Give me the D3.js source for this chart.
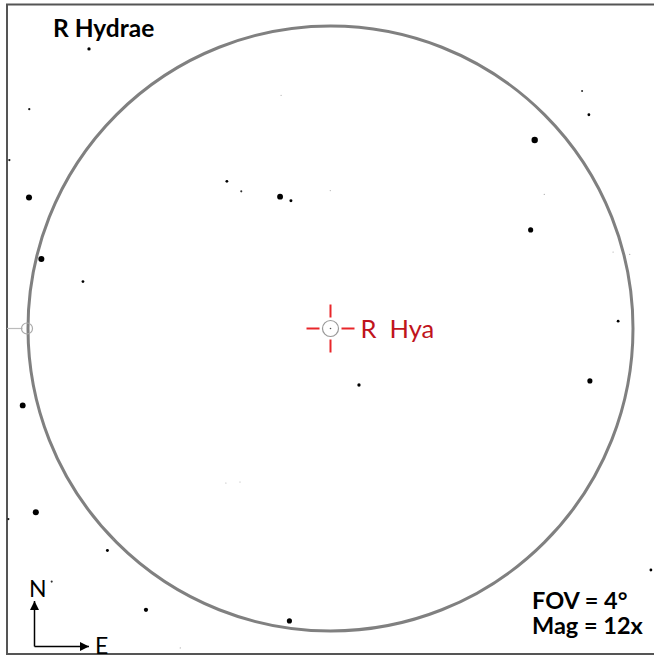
<!DOCTYPE html>
<html>
<head>
<meta charset="utf-8">
<script src="https://cdn.jsdelivr.net/npm/d3@7"></script>
<style>
  body { margin: 0; background: #fff; }
  svg { display: block; }
</style>
</head>
<body>
<div id="chart"></div>
<script>
///////////////////////////////////////////////////
// Data
///////////////////////////////////////////////////

const title = 'R Hydrae';
const targetLabel = 'R  Hya';
const fovLabel = 'FOV = 4°';
const magLabel = 'Mag = 12x';
const fovDegrees = 4;

// star offsets from R Hya in arcmin (x toward E, y toward N) and magnitude
const starDx = [-95.8, -119.5, -127.4, -119.6, -19.6, -41.1, -35.4, -20.0, -15.7, -0.1,
  99.8, 102.5, 81.0, 84.8, -114.7, -98.2, -122.1, 11.3, 79.4, 112.1,
  118.7, 114.1, 102.9, -116.9, -127.8, -86.2, -88.5, -110.6, -73.2, -59.6,
  -41.5, -35.9, -16.3, 127.1];
const starDy = [110.9, 87.0, 66.8, 52.0, 92.5, 58.4, 54.4, 52.3, 50.7, 54.7,
  94.2, 84.8, 74.8, 53.2, 27.6, 18.6, -30.5, -22.4, 39.1, 30.3,
  29.4, 2.9, -20.8, -72.9, -75.6, -83.6, -88.1, -100.4, -111.6, -126.7,
  -61.3, -60.9, -116.0, -95.8];
const starMag = [9.7, 10.3, 10.3, 8.2, 10.9, 10.0, 10.4, 8.3, 9.9, 10.9,
  10.4, 10.0, 8.0, 10.9, 8.2, 10.0, 8.3, 9.7, 8.7, 10.9,
  10.9, 10.0, 8.7, 8.2, 10.3, 10.8, 9.9, 10.4, 9.2, 10.9,
  10.9, 10.9, 8.7, 10.0];

///////////////////////////////////////////////////
// Setup
///////////////////////////////////////////////////

const width = 654, height = 656;
const fovRadius = (fovDegrees / 2) * 60; // arcmin

const x = d3.scaleLinear().domain([-fovRadius, fovRadius]).range([28, 633]);
const y = d3.scaleLinear().domain([-fovRadius, fovRadius]).range([631, 26]);
const r = d3.scaleLinear().domain([8, 11]).range([3.2, 0.5]).clamp(true);
const shade = d3.scaleLinear().domain([10.2, 10.9]).range(['#000', '#aaa']).clamp(true);

const stars = starDx.map((d, i) => ({ dx: d, dy: starDy[i], mag: starMag[i] }));

const svg = d3.select('#chart')
  .append('svg')
  .attr('width', width)
  .attr('height', height);

svg.append('rect')
  .attr('width', width)
  .attr('height', height)
  .attr('fill', '#fff');

// frame (right side runs off the picture)
svg.append('rect')
  .attr('x', 7)
  .attr('y', 4.5)
  .attr('width', 700)
  .attr('height', 649.5)
  .attr('fill', 'none')
  .attr('stroke', '#555')
  .attr('stroke-width', 2);

// field of view circle
svg.append('circle')
  .attr('cx', x(0))
  .attr('cy', y(0))
  .attr('r', x(fovRadius) - x(0))
  .attr('fill', 'none')
  .attr('stroke', '#808080')
  .attr('stroke-width', 3);

// edge marker on the west side
svg.append('line')
  .attr('x1', 7)
  .attr('x2', x(-fovRadius) - 5.5)
  .attr('y1', y(0))
  .attr('y2', y(0))
  .attr('stroke', '#bbb')
  .attr('stroke-width', 1.2);

svg.append('circle')
  .attr('cx', x(-fovRadius) - 1)
  .attr('cy', y(0))
  .attr('r', 5.5)
  .attr('fill', 'none')
  .attr('stroke', '#aaa')
  .attr('stroke-width', 1.2);

// stars
svg.append('g')
  .selectAll('circle')
  .data(stars)
  .join('circle')
  .attr('cx', (d) => x(d.dx))
  .attr('cy', (d) => y(d.dy))
  .attr('r', (d) => r(d.mag))
  .attr('fill', (d) => shade(d.mag));

///////////////////////////////////////////////////
// Target marker
///////////////////////////////////////////////////

const target = svg.append('g')
  .attr('transform', `translate(${x(0)},${y(0)})`);

target.append('circle')
  .attr('r', 8)
  .attr('fill', 'none')
  .attr('stroke', '#999')
  .attr('stroke-width', 1.2);

target.append('circle')
  .attr('r', 0.8)
  .attr('fill', '#555');

const ticks = [[-24, 0, -11, 0], [11, 0, 24, 0], [0, -24, 0, -11], [0, 11, 0, 24]];
target.selectAll('line')
  .data(ticks)
  .join('line')
  .attr('x1', (d) => d[0])
  .attr('y1', (d) => d[1])
  .attr('x2', (d) => d[2])
  .attr('y2', (d) => d[3])
  .attr('stroke', '#e8262a')
  .attr('stroke-width', 2);

target.append('text')
  .attr('x', 30)
  .attr('y', 9.5)
  .attr('font-family', 'Lato, sans-serif')
  .attr('font-size', 25.5)
  .attr('fill', '#c0141c')
  .style('white-space', 'pre')
  .text(targetLabel);

///////////////////////////////////////////////////
// Texts and compass
///////////////////////////////////////////////////

svg.append('text')
  .attr('x', 53)
  .attr('y', 37)
  .attr('font-family', 'Lato, sans-serif')
  .attr('font-weight', 'bold')
  .attr('font-size', 24.5)
  .attr('fill', '#000')
  .text(title);

svg.append('text')
  .attr('x', 532)
  .attr('y', 609)
  .attr('font-family', 'Lato, sans-serif')
  .attr('font-weight', 'bold')
  .attr('font-size', 23.5)
  .attr('fill', '#000')
  .text(fovLabel);

svg.append('text')
  .attr('x', 532)
  .attr('y', 634)
  .attr('font-family', 'Lato, sans-serif')
  .attr('font-weight', 'bold')
  .attr('font-size', 23.5)
  .attr('fill', '#000')
  .text(magLabel);

const defs = svg.append('defs');
defs.append('marker')
  .attr('id', 'arrow')
  .attr('viewBox', '0 0 10 10')
  .attr('refX', 10)
  .attr('refY', 5)
  .attr('markerWidth', 9)
  .attr('markerHeight', 9)
  .attr('markerUnits', 'userSpaceOnUse')
  .attr('orient', 'auto')
  .append('path')
  .attr('d', 'M0,0L10,5L0,10z')
  .attr('fill', '#000');

svg.append('path')
  .attr('d', 'M34.5,646.5V601')
  .attr('stroke', '#000')
  .attr('stroke-width', 1.5)
  .attr('fill', 'none')
  .attr('marker-end', 'url(#arrow)');

svg.append('path')
  .attr('d', 'M34.5,646.5H89')
  .attr('stroke', '#000')
  .attr('stroke-width', 1.5)
  .attr('fill', 'none')
  .attr('marker-end', 'url(#arrow)');

svg.append('text')
  .attr('x', 29)
  .attr('y', 597)
  .attr('font-family', 'Lato, sans-serif')
  .attr('font-size', 23)
  .attr('fill', '#000')
  .text('N');

svg.append('text')
  .attr('x', 95)
  .attr('y', 654)
  .attr('font-family', 'Lato, sans-serif')
  .attr('font-size', 23)
  .attr('fill', '#000')
  .text('E');
</script>
</body>
</html>
